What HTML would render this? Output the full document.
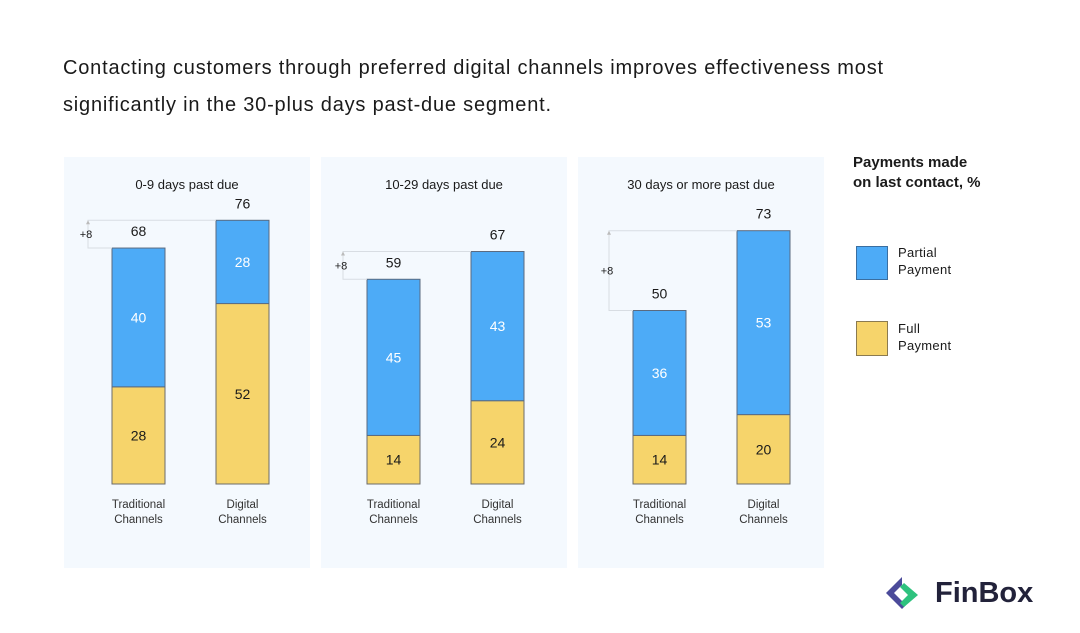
<!DOCTYPE html>
<html><head><meta charset="utf-8"><style>
body{margin:0;width:1080px;height:633px;background:#fff;font-family:"Liberation Sans",sans-serif;overflow:hidden;position:relative;color:#1a1a1a}
.t{position:absolute;white-space:nowrap}
</style></head><body>
<div class="t" style="left:63px;top:50px;font-size:20px;letter-spacing:0.8px;line-height:37px">Contacting customers through preferred digital channels improves effectiveness most<br>significantly in the 30-plus days past-due segment.</div>
<div class="t" style="left:853px;top:153px;font-size:15px;font-weight:bold;line-height:20px">Payments made<br>on last contact, %</div>
<div style="position:absolute;left:856px;top:246px;width:30px;height:32px;background:#4dabf7;border:1px solid #3a6ea0"></div>
<div class="t" style="left:898px;top:244px;font-size:13px;line-height:17px;letter-spacing:0.3px">Partial<br>Payment</div>
<div style="position:absolute;left:856px;top:321px;width:30px;height:33px;background:#f6d46b;border:1px solid #8a7a50"></div>
<div class="t" style="left:898px;top:320px;font-size:13px;line-height:17px;letter-spacing:0.3px">Full<br>Payment</div>
<svg style="position:absolute;left:884px;top:575px" width="40" height="40" viewBox="0 0 40 40">
<path d="M18 2 L2 18 L18 34 L22 30 L10 18 L18 10 Z" fill="#4b4a9a"/>
<path d="M20 8 L34 20 L20 32 L16 28 L24 20 L16 12 Z" fill="#2ec27e"/>
</svg>
<div class="t" style="left:935px;top:577px;font-size:29px;font-weight:bold;color:#22223a">FinBox</div>
<svg id="chart" width="1080" height="633" style="position:absolute;left:0;top:0"></svg>
<script>
const groups=["0-9 days past due","10-29 days past due","30 days or more past due"];
const channels=["Traditional","Digital"];
const fullVals=[[28,52],[14,24],[14,20]];
const partialVals=[[40,24],[45,43],[36,53]];
const partialLabels=[["40","28"],["45","43"],["36","53"]];
const diffLabels=["+8","+8","+8"];
const NS="http://www.w3.org/2000/svg";
const svg=document.getElementById('chart');
const base=484, ppu=3.47;
const y=v=>base-v*ppu;
const panelLeft=[64,321,578];
const barOffset=[48,46,55];
function el(tag,attrs,parent){const e=document.createElementNS(NS,tag);for(const k in attrs)e.setAttribute(k,attrs[k]);(parent||svg).appendChild(e);return e;}
function txt(x,yy,s,size,fill,parent){const t=el('text',{x:x,y:yy,'text-anchor':'middle','font-size':size,fill:fill,'font-family':'Liberation Sans, sans-serif'},parent);t.textContent=s;return t;}
groups.forEach((g,i)=>{
  const px=panelLeft[i];
  const p=el('rect',{x:px,y:157,width:246,height:411,fill:'#f4f9fe'});
  
  
  const gt=txt(px+123,189,g,13,'#1a1a1a');
  
  
  const tops=[];
  const b0=px+barOffset[i];
  channels.forEach((c,j)=>{
    const bx=b0+j*104, w=53;
    const f=fullVals[i][j], pa=partialVals[i][j], tot=f+pa;
    tops.push(y(tot));
    const rf=el('rect',{x:bx,y:y(f),width:w,height:f*ppu,fill:'#f6d46b',stroke:'#6b6b6b','stroke-width':1});
    
    
    const rp=el('rect',{x:bx,y:y(tot),width:w,height:pa*ppu,fill:'#4dabf7',stroke:'#5a6a80','stroke-width':1});
    
    
    txt(bx+w/2,y(f/2)+5,String(f),14,'#1a1a1a');
    txt(bx+w/2,y(f+pa/2)+5,partialLabels[i][j],14,'#ffffff');
    txt(bx+w/2,y(tot)-12,String(tot),14,'#1a1a1a');
    const l1=txt(bx+w/2,508,c,11.5,'#333');
    txt(bx+w/2,523,'Channels',11.5,'#333');
    
    
  });
  const lx=b0-24, dx=b0+104;
  el('polyline',{points:`${b0},${tops[0]} ${lx},${tops[0]} ${lx},${tops[1]} ${dx},${tops[1]}`,fill:'none',stroke:'#d8dde3','stroke-width':1});
  el('path',{d:`M${lx-2} ${tops[1]+4} L${lx} ${tops[1]} L${lx+2} ${tops[1]+4}`,fill:'#bbb'});
  const dl=txt(lx-2,(tops[0]+tops[1])/2+4,diffLabels[i],11,'#1a1a1a');
  
  
});
</script>
</body></html>
